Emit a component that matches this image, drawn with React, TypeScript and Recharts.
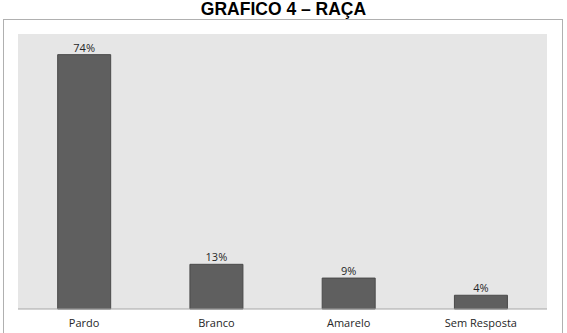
import React from 'react';
import { BarChart, Bar, XAxis, YAxis, CartesianGrid, LabelList } from 'recharts';

const categories = ['Pardo', 'Branco', 'Amarelo', 'Sem Resposta'];
const values = [74, 13, 9, 4];
const title = 'GRAFICO 4 – RAÇA';

const data = categories.map((c, i) => ({ name: c, value: values[i] }));

const Tick = (props: any) => {
  const { x, y, payload } = props;
  return (
    <text x={x} y={y + 10} textAnchor="middle" fontFamily="'Open Sans', sans-serif" fontSize={11} fill="#262626">
      {payload.value}
    </text>
  );
};

export default function App() {
  return (
    <div style={{ position: 'absolute', left: 0, top: 0, width: 567, height: 333, background: '#fff', overflow: 'hidden' }}>
      <div style={{ position: 'absolute', left: 3, top: 19, width: 558, height: 330, border: '1px solid #b0b0b0' }} />
      <div style={{ position: 'absolute', left: 0, top: 0, width: 567, textAlign: 'center', fontFamily: "'Liberation Sans', Arial, sans-serif", fontWeight: 'bold', fontSize: 17.5, color: '#000', lineHeight: '19px' }}>
        {title}
      </div>
      <div style={{ position: 'absolute', left: 0, top: 0 }}>
        <BarChart width={567} height={333} data={data} margin={{ top: 34, right: 20, left: 18, bottom: 0 }} barCategoryGap="30%">
          <CartesianGrid fill="#e6e6e6" horizontal={false} vertical={false} stroke="none" />
          <YAxis hide domain={[0, 80]} />
          <XAxis dataKey="name" height={24} tickLine={false} axisLine={{ stroke: '#a6a6a6' }} tick={<Tick />} interval={0} />
          <Bar dataKey="value" fill="#5f5f5f" stroke="#4a4a4a" strokeWidth={1} isAnimationActive={false}>
            <LabelList dataKey="value" position="top" offset={3} formatter={(v: any) => `${v}%`} fontFamily="'Open Sans', sans-serif" fontSize={11} fill="#262626" />
          </Bar>
        </BarChart>
      </div>
    </div>
  );
}
